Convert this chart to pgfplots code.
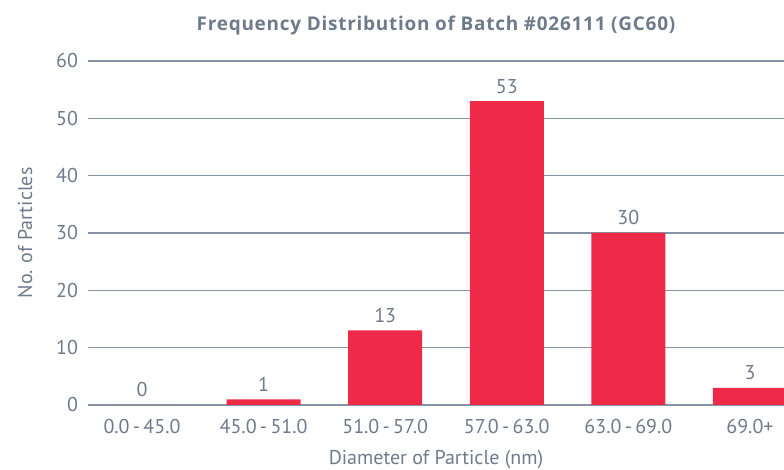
\documentclass[border=0pt]{standalone}
\usepackage{pgfplots}
\pgfplotsset{compat=1.18}
\usepackage{fontspec}
\setmainfont{PT Sans}
\newfontfamily\titlefont[LetterSpace=4]{Open Sans}
\definecolor{txt}{HTML}{6E7B8B}
\definecolor{grd}{HTML}{8794A3}
\definecolor{barred}{HTML}{EE2A48}
\begin{document}
\begin{tikzpicture}[x=0.75pt,y=0.75pt]
\begin{axis}[
  at={(66pt,48.75pt)}, anchor=south west,
  scale only axis, width=522pt, height=258pt,
  /pgf/number format/assume math mode=true,
  ybar, bar width=55.5pt,
  ymin=0, ymax=60, ytick={0,10,...,60},
  xmin=-0.444, xmax=5.28,
  xtick={0,1,2,3,4,5},
  xticklabels={0.0\,-\,45.0, 45.0\,-\,51.0, 51.0\,-\,57.0, 57.0\,-\,63.0, 63.0\,-\,69.0, 69.0+},
  axis line style={draw=none},
  major tick length=0pt,
  ymajorgrids, grid style={draw=grd, line width=0.8pt},
  ticklabel style={font=\fontsize{15}{18}\selectfont, text=txt},
  yticklabel style={anchor=east, xshift=-4pt},
  xticklabel style={anchor=base, yshift=-21.75pt},
  title={Frequency Distribution of Batch \#026111 (GC60)},
  title style={at={(axis description cs:0.5,1)}, anchor=base, yshift=16.5pt, font=\titlefont\bfseries\fontsize{14.2}{17}\selectfont, text=txt},
  xlabel={Diameter of Particle (nm)},
  xlabel style={at={(axis description cs:0.5,0)}, anchor=base, yshift=-45pt, font=\fontsize{15}{18}\selectfont, text=txt},
  ylabel={No. of Particles},
  ylabel style={at={(axis description cs:-0.0905,0.5)}, anchor=center, font=\fontsize{15}{18}\selectfont, text=txt},
  nodes near coords,
  nodes near coords style={anchor=base, yshift=6pt, font=\fontsize{15}{18}\selectfont, text=txt},
]
\addplot[fill=barred, draw=none] coordinates {(0,0) (1,1) (2,13) (3,53) (4,30) (5,3)};
\end{axis}
\pgfresetboundingbox
\useasboundingbox (0,0) rectangle (784,470);
\end{tikzpicture}
\end{document}
